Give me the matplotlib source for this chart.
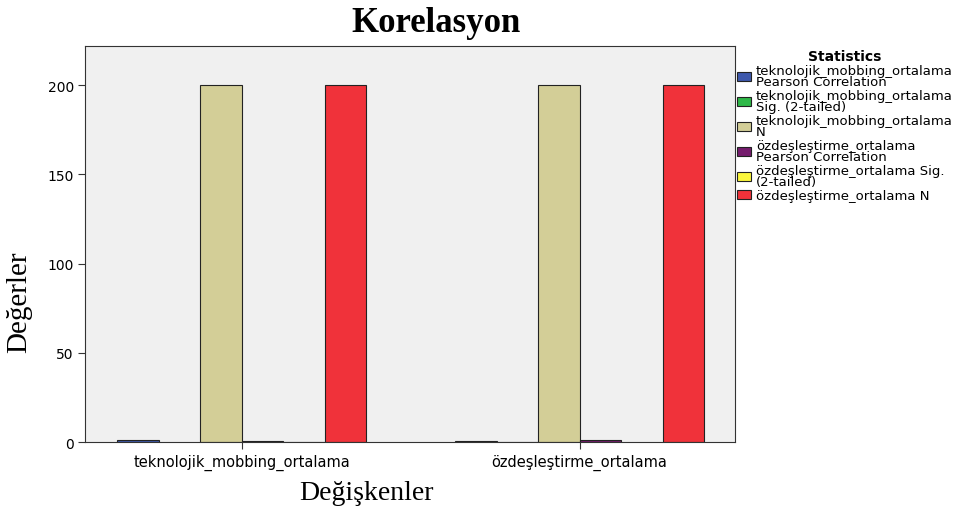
import matplotlib.pyplot as plt
import numpy as np

variables = ["teknolojik_mobbing_ortalama", "özdeşleştirme_ortalama"]
series = [
    "teknolojik_mobbing_ortalama\nPearson Correlation",
    "teknolojik_mobbing_ortalama\nSig. (2-tailed)",
    "teknolojik_mobbing_ortalama\nN",
    "özdeşleştirme_ortalama\nPearson Correlation",
    "özdeşleştirme_ortalama Sig.\n(2-tailed)",
    "özdeşleştirme_ortalama N",
]
# rows = series, columns = variables (nan = empty cell)
values = [
    [1.0, 0.45],
    [np.nan, 0.0],
    [200, 200],
    [0.45, 1.0],
    [0.0, np.nan],
    [200, 200],
]
colors = ["#3e58ac", "#2eb848", "#d3ce97", "#751c6d", "#fbf73c", "#f0323a"]

fig = plt.figure(figsize=(9.77, 5.1), dpi=100)
ax = fig.add_axes([0.087, 0.131, 0.665, 0.777])
ax.set_facecolor("#f0f0f0")

x = np.arange(len(variables))
w = 0.123
for i, (name, vals, c) in enumerate(zip(series, values, colors)):
    ax.bar(x + (i - 2.5) * w, vals, w, color=c, edgecolor="#222222",
           linewidth=0.8, label=name)

ax.set_xlim(-0.464, 1.459)
ax.set_ylim(0, 222)
ax.set_xticks(x)
ax.set_xticklabels(variables, fontsize=10.5, family="DejaVu Sans")
ax.set_yticks([0, 50, 100, 150, 200])
ax.set_yticklabels(["0", "50", "100", "150", "200"], fontsize=10, family="DejaVu Sans")
ax.tick_params(direction="out", length=5, color="#333333", width=0.8, pad=3)
for s in ax.spines.values():
    s.set_color("#333333")
    s.set_linewidth(0.8)

# titles placed where the original puts them
fig.text(436 / 977, 1 - 24 / 510, "Korelasyon", fontsize=25, fontweight="bold",
         family="Liberation Serif", ha="center", va="center")
fig.text(366 / 977, 1 - 494 / 510, "Değişkenler", fontsize=20,
         family="Liberation Serif", ha="center", va="center")
fig.text(19 / 977, 1 - 302 / 510, "Değerler", fontsize=21, rotation=90,
         family="Liberation Serif", ha="center", va="center")

leg = ax.legend(loc="upper left", bbox_to_anchor=(1.003, 0.993), frameon=False,
                title="Statistics", prop={"family": "DejaVu Sans", "size": 9.5},
                handlelength=1.1, handleheight=0.65, handletextpad=0.35,
                labelspacing=0.08, borderaxespad=0.0, borderpad=0.0)
leg.get_title().set_fontweight("bold")
leg.get_title().set_fontfamily("DejaVu Sans")
leg.get_title().set_fontsize(10)
for t in leg.get_texts():
    t.set_linespacing(0.8)

fig.savefig("out.png", dpi=100)
